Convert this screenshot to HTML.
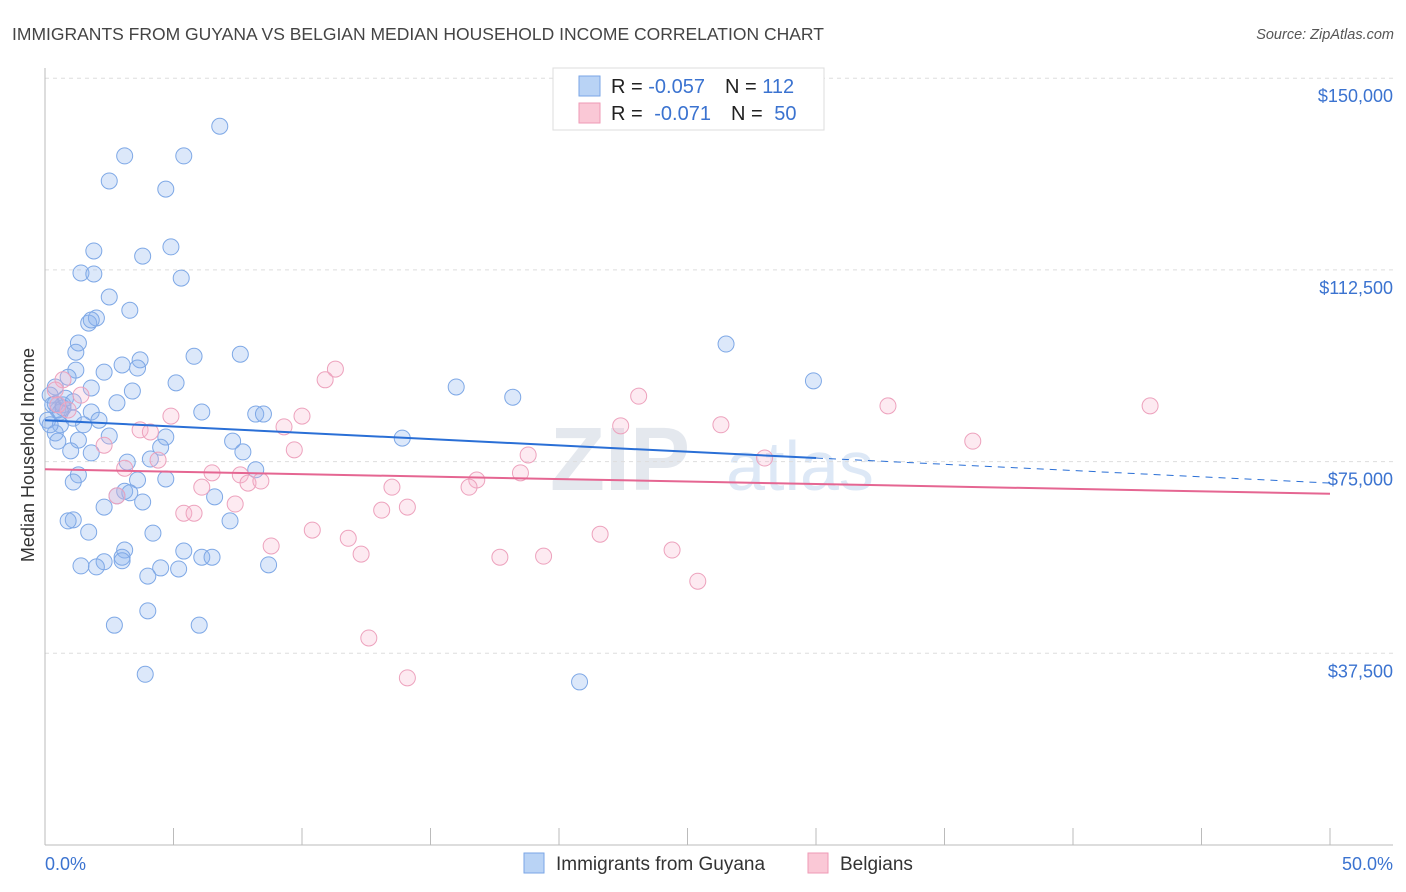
<!DOCTYPE html>
<html><head><meta charset="utf-8"><style>
body{margin:0;background:#fff;font-family:"Liberation Sans",sans-serif;}
svg{display:block}
</style></head><body>
<svg id="c" width="1406" height="892" xmlns="http://www.w3.org/2000/svg">
<text x="12" y="40" font-size="17.5" fill="#444">IMMIGRANTS FROM GUYANA VS BELGIAN MEDIAN HOUSEHOLD INCOME CORRELATION CHART</text>
<text x="1394" y="39" font-size="14.5" fill="#555" text-anchor="end" font-style="italic">Source: ZipAtlas.com</text>
<text x="620" y="490" font-size="90" fill="#e4e8ee" font-weight="bold" text-anchor="middle">ZIP</text>
<text x="800" y="490" font-size="70" fill="#dde8f6" text-anchor="middle">atlas</text>
<g id="grid"></g>
<g id="pts"></g>
<g id="trend"></g>
<text transform="translate(34,455) rotate(-90)" font-size="18" fill="#333" text-anchor="middle">Median Household Income</text>
<text x="45" y="870" font-size="18" fill="#3b73d0">0.0%</text>
<text x="1393" y="870" font-size="18" fill="#3b73d0" text-anchor="end">50.0%</text>
<g>
<rect x="553" y="68" width="271" height="62" fill="#fff" stroke="#ddd"/>
<rect x="579" y="76" width="21" height="20" fill="#b9d3f5" stroke="#7aa6e6"/>
<rect x="579" y="103" width="21" height="20" fill="#fac8d6" stroke="#ef9ab6"/>
<text x="611" y="93" font-size="20" fill="#222">R = <tspan fill="#3b73d0">-0.057</tspan><tspan dx="20">N = </tspan><tspan fill="#3b73d0">112</tspan></text>
<text x="611" y="120" font-size="20" fill="#222">R = <tspan fill="#3b73d0" dx="6">-0.071</tspan><tspan dx="20">N = </tspan><tspan fill="#3b73d0" dx="6">50</tspan></text>
</g>
<g>
<rect x="524" y="853" width="20" height="20" fill="#b9d3f5" stroke="#7aa6e6"/>
<text x="556" y="870" font-size="19" fill="#333">Immigrants from Guyana</text>
<rect x="808" y="853" width="20" height="20" fill="#fac8d6" stroke="#ef9ab6"/>
<text x="840" y="870" font-size="19" fill="#333">Belgians</text>
</g>
</svg>
<script>
const yTicks=[37.5,75,112.5,150];
const yTickLabels=["$37,500","$75,000","$112,500","$150,000"];
const xTicks=[0,5,10,15,20,25,30,35,40,45,50];
const guyanaX=[6.8,3.1,5.4,2.5,4.7,1.9,4.9,3.8,1.4,1.9,5.3,2.5,3.3,1.7,2.0,1.8,1.3,1.2,5.8,7.6,3.7,3.0,3.6,2.3,1.2,0.9,5.1,0.4,1.8,3.4,26.5,29.9,16.0,18.2,0.2,2.8,6.1,8.2,8.5,1.8,0.5,0.7,0.3,0.1,0.6,1.1,1.5,2.1,0.4,1.3,2.5,4.7,7.3,13.9,1.0,1.8,4.5,4.1,7.7,3.2,8.2,1.3,1.1,3.6,4.7,3.1,3.3,2.8,3.8,2.3,6.6,7.2,1.1,0.9,1.7,4.2,3.1,5.4,3.0,3.0,2.3,6.1,6.5,1.4,2.0,4.5,5.2,4.0,8.7,4.0,2.7,6.0,3.9,20.8,0.6,0.4,0.7,0.8,0.2,0.5,1.1];
const guyanaY=[140.6,134.8,134.8,129.9,128.3,116.2,117.0,115.2,111.9,111.7,110.9,107.2,104.6,102.1,103.1,102.7,98.2,96.4,95.6,96.0,94.9,93.9,93.3,92.5,92.9,91.5,90.4,89.6,89.4,88.8,98.0,90.8,89.6,87.6,88.0,86.5,84.7,84.3,84.3,84.7,85.1,86.1,86.1,83.1,82.2,83.5,82.2,83.1,80.6,79.2,80.0,79.8,79.0,79.6,77.1,76.7,77.8,75.5,76.9,74.9,73.4,72.4,71.0,71.4,71.6,69.2,68.9,68.3,67.1,66.1,68.1,63.4,63.6,63.4,61.2,61.0,57.7,57.5,56.3,55.6,55.4,56.3,56.3,54.6,54.4,54.2,54.0,52.6,54.8,45.8,43.0,43.0,33.4,31.9,84.7,86.3,85.5,87.4,82.2,79.0,86.7];
const belgX=[11.3,10.9,0.7,0.4,1.4,0.9,4.9,10.0,23.1,32.8,43.0,26.3,22.4,9.3,36.1,3.7,4.1,2.3,9.7,18.8,28.0,4.4,3.1,6.5,7.6,16.8,18.5,6.1,7.9,8.4,13.5,16.5,2.8,7.4,14.1,13.1,5.4,5.8,10.4,8.8,11.8,12.3,17.7,19.4,21.6,24.4,25.4,12.6,14.1,0.5];
const belgY=[93.1,91.0,91.0,89.0,88.0,85.1,83.9,83.9,87.8,85.9,85.9,82.2,82.0,81.8,79.0,81.2,80.8,78.2,77.3,76.3,75.7,75.3,73.7,72.8,72.4,71.4,72.8,70.0,70.8,71.2,70.0,70.0,68.3,66.7,66.1,65.5,64.9,64.9,61.6,58.5,60.0,56.9,56.3,56.5,60.8,57.7,51.6,40.5,32.7,86.1];
const trendBlue=[83.1,75.7,70.8];
const trendPink=[73.5,68.7];
const X=v=>45+v*25.7, Y=v=>845-v*5.112;
const NS="http://www.w3.org/2000/svg";
function mk(t,a,p){const e=document.createElementNS(NS,t);for(const k in a)e.setAttribute(k,a[k]);p.appendChild(e);return e;}
const grid=document.getElementById('grid'),pts=document.getElementById('pts'),tr=document.getElementById('trend');
yTicks.forEach((v,i)=>{
 const l=mk('line',{x1:45,x2:1393,y1:Y(v),y2:Y(v),stroke:'#ddd','stroke-dasharray':'4,4'},grid);
 
 
 const t=mk('text',{x:1393,y:Y(v)+24,'font-size':18,fill:'#3b73d0','text-anchor':'end'},grid);
 t.textContent=yTickLabels[i];
 
 
});
const ax=mk('line',{x1:45,x2:45,y1:68,y2:845,stroke:'#bbb'},grid);


const bx=mk('line',{x1:45,x2:1393,y1:845,y2:845,stroke:'#bbb'},grid);


xTicks.forEach(v=>{const l=mk('line',{x1:X(v),x2:X(v),y1:828,y2:845,stroke:'#bbb'},grid);
 
 });
guyanaX.forEach((v,i)=>{const c=mk('circle',{cx:X(v),cy:Y(guyanaY[i]),r:8,fill:'rgba(140,180,238,0.3)',stroke:'#7ea8e6','stroke-width':1},pts);
 
 });
belgX.forEach((v,i)=>{const c=mk('circle',{cx:X(v),cy:Y(belgY[i]),r:8,fill:'rgba(248,180,204,0.28)',stroke:'#eda2bd','stroke-width':1},pts);
 
 });
const l1=mk('line',{x1:X(0),y1:Y(trendBlue[0]),x2:X(30),y2:Y(trendBlue[1]),stroke:'#2a6fd6','stroke-width':2},tr);


const l2=mk('line',{x1:X(30),y1:Y(trendBlue[1]),x2:X(50),y2:Y(trendBlue[2]),stroke:'#2a6fd6','stroke-width':1,'stroke-dasharray':'7,6'},tr);


const l3=mk('line',{x1:X(0),y1:Y(trendPink[0]),x2:X(50),y2:Y(trendPink[1]),stroke:'#e56692','stroke-width':2},tr);


</script>
</body></html>
